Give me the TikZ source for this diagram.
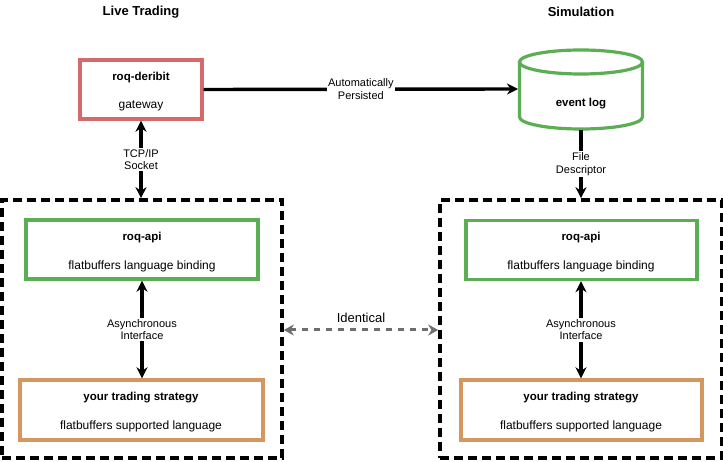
\documentclass[tikz,border=0pt]{standalone}
\usepackage{fontspec}
\setmainfont{Liberation Sans}
\usetikzlibrary{arrows.meta}
\definecolor{redc}{HTML}{D46A6A}
\definecolor{greenc}{HTML}{5CAE55}
\definecolor{orangec}{HTML}{D4975F}
\definecolor{grayc}{HTML}{6E6E6E}
\begin{document}
\begin{tikzpicture}[x=1pt,y=-1pt,
  box/.style={draw, line width=3.4pt, fill=white, inner sep=0pt},
  dbox/.style={draw, line width=3.6pt, dash pattern=on 9pt off 5pt, inner sep=0pt},
  conn/.style={line width=3.4pt, -{Stealth[length=11pt,width=11pt]}},
  bconn/.style={line width=3.4pt, {Stealth[length=11pt,width=11pt]}-{Stealth[length=11pt,width=11pt]}},
  lbl/.style={fill=white, inner sep=1.5pt, align=center, font=\fontsize{11}{12.5}\selectfont},
  title/.style={font=\bfseries\fontsize{13}{15}\selectfont},
  btxt/.style={font=\bfseries\fontsize{11.5}{13}\selectfont},
  ntxt/.style={font=\fontsize{12}{14}\selectfont}]
\useasboundingbox (0,0) rectangle (723,462);
% titles
\node[title] (t1) at (141,12) {Live Trading};
\node[title] (t2) at (581,12) {Simulation};
% dashed containers
\node[dbox, minimum width=280pt, minimum height=258pt] (lbox) at (142,329) {};
\node[dbox, minimum width=282pt, minimum height=258pt] (rbox) at (581,329) {};
% gateway
\node[box, draw=redc, minimum width=122pt, minimum height=59pt] (gw) at (141,89.5) {};
\node[btxt] (gwa) at (141,78) {roq-deribit};
\node[ntxt] (gwb) at (141,106) {gateway};
% cylinder
\draw[greenc, line width=3.2pt, fill=white] (519.5,62) -- (519.5,117) arc (180:0:61.5 and 12) -- (642.5,62);
\draw[greenc, line width=3.2pt, fill=white] (581,62) ellipse (61.5 and 12);
\coordinate (cylL) at (518,89);
\coordinate (cylB) at (581,130);
\node[btxt] (ev) at (581,104) {event log};
% api boxes
\node[box, draw=greenc, minimum width=232pt, minimum height=59pt] (api1) at (142,249.5) {};
\node[btxt] (api1a) at (142,238) {roq-api};
\node[ntxt] (api1b) at (142,266) {flatbuffers language binding};
\node[box, draw=greenc, minimum width=231pt, minimum height=59pt] (api2) at (581.5,250) {};
\node[btxt] (api2a) at (581,238) {roq-api};
\node[ntxt] (api2b) at (581,266) {flatbuffers language binding};
% strategy boxes
\node[box, draw=orangec, minimum width=243pt, minimum height=60pt] (st1) at (141.5,410) {};
\node[btxt] (st1a) at (141,398) {your trading strategy};
\node[ntxt] (st1b) at (141,426) {flatbuffers supported language};
\node[box, draw=orangec, minimum width=241pt, minimum height=60pt] (st2) at (581.5,410) {};
\node[btxt] (st2a) at (581,398) {your trading strategy};
\node[ntxt] (st2b) at (581,426) {flatbuffers supported language};
% connectors
\draw[conn] (gw.east) -- (cylL) node[lbl, midway] (ap) {Automatically\\Persisted};
\draw[bconn] (gw.south) -- (gw.south |- lbox.north) node[lbl, midway] (tcp) {TCP/IP\\Socket};
\draw[conn] (cylB) -- (cylB |- rbox.north) node[lbl, midway] (fd) {File\\Descriptor};
\draw[bconn] (api1.south) -- (st1.north -| api1.south) node[lbl, midway] (as1) {Asynchronous\\Interface};
\draw[bconn] (api2.south -| cylB) -- (st2.north -| cylB) node[lbl, midway] (as2) {Asynchronous\\Interface};
\draw[grayc, line width=3pt, dash pattern=on 6pt off 6pt, {Stealth[length=10pt,width=11pt]}-{Stealth[length=10pt,width=11pt]}] (lbox.east |- 0,330) -- (rbox.west |- 0,330) node[midway, above=3pt, text=black, font=\fontsize{13}{15}\selectfont] (id) {Identical};
\end{tikzpicture}
\end{document}
